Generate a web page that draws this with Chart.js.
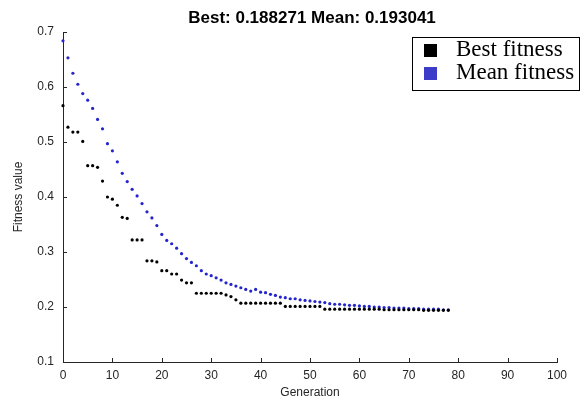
<!DOCTYPE html>
<html>
<head>
<meta charset="utf-8">
<script src="https://cdn.jsdelivr.net/npm/chart.js@4/dist/chart.umd.min.js"></script>
<style>
  html, body { margin: 0; padding: 0; background: #fff; }
  #wrap { width: 582px; height: 401px; }
</style>
</head>
<body>
<div id="wrap"><canvas id="gaChart" width="582" height="401"></canvas></div>
<script>
// generations 0..78
const generations = [
  0, 1, 2, 3, 4, 5, 6, 7, 8, 9, 10, 11, 12, 13, 14, 15, 16, 17, 18, 19,
  20, 21, 22, 23, 24, 25, 26, 27, 28, 29, 30, 31, 32, 33, 34, 35, 36, 37, 38, 39,
  40, 41, 42, 43, 44, 45, 46, 47, 48, 49, 50, 51, 52, 53, 54, 55, 56, 57, 58, 59,
  60, 61, 62, 63, 64, 65, 66, 67, 68, 69, 70, 71, 72, 73, 74, 75, 76, 77, 78
];

const bestFitness = [
  0.566, 0.527, 0.518, 0.518, 0.501, 0.457, 0.457, 0.454, 0.429, 0.400,
  0.396, 0.385, 0.363, 0.361, 0.322, 0.322, 0.322, 0.284, 0.284, 0.282,
  0.266, 0.266, 0.260, 0.260, 0.249, 0.244, 0.244, 0.225, 0.225, 0.225,
  0.225, 0.225, 0.225, 0.222, 0.219, 0.213, 0.207, 0.207, 0.207, 0.207,
  0.207, 0.207, 0.207, 0.207, 0.207, 0.201, 0.201, 0.201, 0.201, 0.201,
  0.201, 0.201, 0.201, 0.196, 0.196, 0.196, 0.196, 0.196, 0.196, 0.196,
  0.196, 0.196, 0.196, 0.196, 0.196, 0.195, 0.195, 0.195, 0.195, 0.195,
  0.195, 0.195, 0.195, 0.194, 0.194, 0.194, 0.194, 0.194, 0.194
];

const meanFitness = [
  0.684, 0.653, 0.625, 0.605, 0.588, 0.576, 0.561, 0.541, 0.524, 0.497,
  0.484, 0.464, 0.443, 0.428, 0.414, 0.402, 0.388, 0.373, 0.362, 0.348,
  0.332, 0.321, 0.315, 0.307, 0.297, 0.288, 0.281, 0.275, 0.266, 0.260,
  0.257, 0.253, 0.249, 0.244, 0.241, 0.238, 0.235, 0.232, 0.229, 0.232,
  0.227, 0.226, 0.223, 0.221, 0.218, 0.217, 0.215, 0.215, 0.213, 0.212,
  0.211, 0.210, 0.209, 0.208, 0.206, 0.205, 0.205, 0.204, 0.203, 0.203,
  0.202, 0.201, 0.201, 0.200, 0.200, 0.199, 0.199, 0.198, 0.198, 0.198,
  0.197, 0.197, 0.197, 0.196, 0.196, 0.196, 0.196, 0.195, 0.195
];

const xTicks = [0, 10, 20, 30, 40, 50, 60, 70, 80, 90, 100];
const yTicks = [0.1, 0.2, 0.3, 0.4, 0.5, 0.6, 0.7];

const titleText = 'Best: 0.188271 Mean: 0.193041';
const axisColor = '#262626';

const toPoints = vals => vals.map((v, i) => ({ x: generations[i], y: v }));

// MATLAB-style inward ticks
const inwardTicks = {
  id: 'inwardTicks',
  afterDatasetsDraw(chart) {
    const { ctx, chartArea, scales } = chart;
    ctx.save();
    ctx.strokeStyle = axisColor;
    ctx.lineWidth = 1;
    ctx.beginPath();
    xTicks.forEach(t => {
      const px = Math.round(scales.x.getPixelForValue(t)) + 0.5;
      ctx.moveTo(px, chartArea.bottom);
      ctx.lineTo(px, chartArea.bottom - 4);
    });
    yTicks.forEach(t => {
      const py = Math.round(scales.y.getPixelForValue(t)) + 0.5;
      ctx.moveTo(chartArea.left, py);
      ctx.lineTo(chartArea.left + 4, py);
    });
    ctx.stroke();
    ctx.restore();
  }
};

// title + boxed legend drawn over the plot like the MATLAB figure
const figureText = {
  id: 'figureText',
  afterDraw(chart) {
    const { ctx, chartArea } = chart;
    ctx.save();
    ctx.fillStyle = '#000';
    ctx.font = 'bold 17px "Liberation Sans", Arial, sans-serif';
    ctx.textAlign = 'center';
    ctx.textBaseline = 'middle';
    ctx.fillText(titleText, (chartArea.left + chartArea.right) / 2 + 2, 18);

    // legend box
    ctx.fillStyle = '#fff';
    ctx.fillRect(412, 37, 168, 54);
    ctx.strokeStyle = '#000';
    ctx.lineWidth = 1;
    ctx.strokeRect(412.5, 37.5, 167, 53);
    ctx.font = '23px "Liberation Serif", "Times New Roman", serif';
    ctx.textAlign = 'left';
    chart.data.datasets.forEach((ds, i) => {
      const cy = 50 + i * 23;
      ctx.fillStyle = ds.legendColor;
      ctx.fillRect(424, cy - 6, 13, 13);
      ctx.fillStyle = '#000';
      ctx.fillText(ds.label, 456, cy);
    });
    ctx.restore();
  }
};

new Chart(document.getElementById('gaChart'), {
  type: 'scatter',
  data: {
    datasets: [
      {
        label: 'Best fitness',
        data: toPoints(bestFitness),
        backgroundColor: '#000',
        legendColor: '#000',
        pointRadius: 1.6,
        pointBorderWidth: 0,
        clip: false
      },
      {
        label: 'Mean fitness',
        data: toPoints(meanFitness),
        backgroundColor: '#2525cc',
        legendColor: '#3c3cc8',
        pointRadius: 1.6,
        pointBorderWidth: 0,
        clip: false
      }
    ]
  },
  options: {
    responsive: false,
    animation: false,
    layout: { padding: { top: 32, right: 25, bottom: 0, left: 0 } },
    plugins: {
      legend: { display: false },
      title: { display: false },
      tooltip: { enabled: false }
    },
    scales: {
      x: {
        type: 'linear',
        min: 0,
        max: 100,
        afterFit: s => { s.height = 39; },
        afterBuildTicks: s => { s.ticks = xTicks.map(v => ({ value: v })); },
        grid: { display: false, drawTicks: false },
        border: { display: true, color: axisColor, width: 1 },
        ticks: {
          color: axisColor,
          padding: 6,
          maxRotation: 0,
          font: { family: '"Liberation Sans", Arial, sans-serif', size: 12 }
        },
        title: {
          display: true,
          text: 'Generation',
          color: axisColor,
          padding: { top: 0, bottom: 1 },
          font: { family: '"Liberation Sans", Arial, sans-serif', size: 12 }
        }
      },
      y: {
        type: 'linear',
        min: 0.1,
        max: 0.7,
        afterFit: s => { s.width = 63; },
        afterBuildTicks: s => { s.ticks = yTicks.map(v => ({ value: v })); },
        grid: { display: false, drawTicks: false },
        border: { display: true, color: axisColor, width: 1 },
        ticks: {
          color: axisColor,
          padding: 9,
          callback: v => v.toFixed(1),
          font: { family: '"Liberation Sans", Arial, sans-serif', size: 12 }
        },
        title: {
          display: true,
          text: 'Fitness value',
          color: axisColor,
          padding: { top: 11, bottom: 0 },
          font: { family: '"Liberation Sans", Arial, sans-serif', size: 12 }
        }
      }
    }
  },
  plugins: [inwardTicks, figureText]
});
</script>
</body>
</html>
